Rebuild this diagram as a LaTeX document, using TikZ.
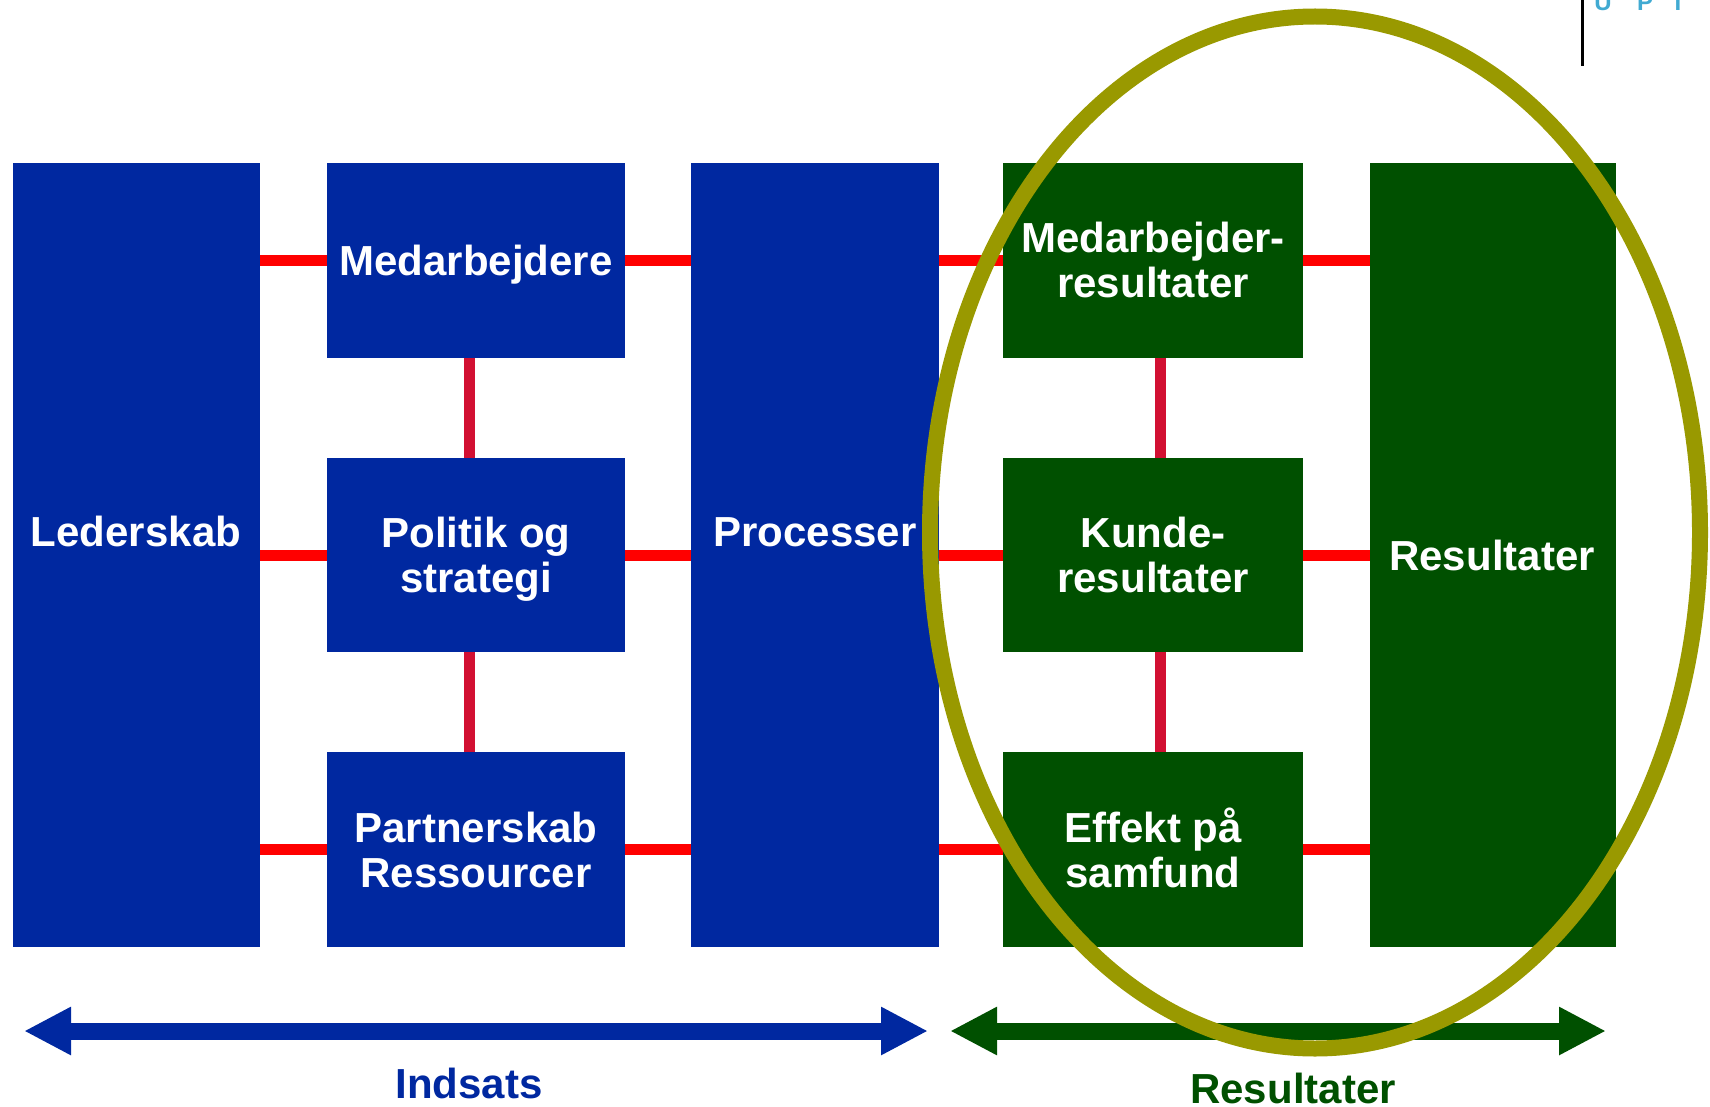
\documentclass[tikz,border=0pt]{standalone}
\usepackage{fontspec}
\setmainfont{Liberation Sans}
\usetikzlibrary{arrows.meta}
\definecolor{eblue}{RGB}{0,40,160}
\definecolor{egreen}{RGB}{0,80,0}
\definecolor{eolive}{RGB}{153,153,0}
\definecolor{ered}{RGB}{255,0,0}
\definecolor{ecrimson}{RGB}{210,16,50}
\definecolor{elogo}{RGB}{65,170,210}
\newcommand\lstr{\rule[-8pt]{0pt}{46pt}}
\newcommand\lblfont{\bfseries\fontsize{42}{45}\selectfont\lineskiplimit=-100pt\relax}
\begin{document}
\begin{tikzpicture}[x=1pt,y=-1pt,
  bluebox/.style={fill=eblue, inner sep=0pt},
  greenbox/.style={fill=egreen, inner sep=0pt},
  lbl/.style={text=white, align=center, inner sep=0pt, font=\lblfont},
  boxtext/.style={lbl},
  hcon/.style={draw=ered, line width=11pt},
  vcon/.style={draw=ecrimson, line width=11pt},
  bigarrow/.style={line width=17pt, {Triangle[length=47pt,width=45pt]}-{Triangle[length=47pt,width=45pt]}},
  arrlbl/.style={inner sep=0pt, font=\lblfont},
]
\useasboundingbox (0,0) rectangle (1710,1107);

% blue column boxes
\node[bluebox, minimum width=247pt, minimum height=784pt] (led) at (136.5,555) {};
\node[bluebox, boxtext, minimum width=298pt, minimum height=195pt] (med) at (476,260.5) {Medarbejdere\lstr};
\node[bluebox, boxtext, minimum width=298pt, minimum height=194pt] (pol) at (476,555) {Politik og\lstr\\strategi\lstr};
\node[bluebox, boxtext, minimum width=298pt, minimum height=195pt] (par) at (476,849.5) {Partnerskab\lstr\\Ressourcer\lstr};
\node[bluebox, minimum width=248pt, minimum height=784pt] (proc) at (815,555) {};

% green boxes
\node[greenbox, boxtext, minimum width=300pt, minimum height=195pt] (mr) at (1153,260.5) {Medarbejder-\lstr\\resultater\lstr};
\node[greenbox, boxtext, minimum width=300pt, minimum height=194pt] (kun) at (1153,555) {Kunde-\lstr\\resultater\lstr};
\node[greenbox, boxtext, minimum width=300pt, minimum height=195pt] (eff) at (1153,849.5) {Effekt på\lstr\\samfund\lstr};
\node[greenbox, minimum width=246pt, minimum height=784pt] (res) at (1493,555) {};

% labels of the tall boxes
\node[lbl] (ledt) at (136,531) {Lederskab\lstr};
\node[lbl] (proct) at (815,531) {Processer\lstr};
\node[lbl] (rest) at (1492,555) {Resultater\lstr};

% horizontal connectors
\draw[hcon] (led.east |- med.west) -- (med.west);
\draw[hcon] (med.east) -- (proc.west |- med.east);
\draw[hcon] (proc.east |- mr.west) -- (mr.west);
\draw[hcon] (mr.east) -- (res.west |- mr.east);
\draw[hcon] (led.east |- pol.west) -- (pol.west);
\draw[hcon] (pol.east) -- (proc.west |- pol.east);
\draw[hcon] (proc.east |- kun.west) -- (kun.west);
\draw[hcon] (kun.east) -- (res.west |- kun.east);
\draw[hcon] (led.east |- par.west) -- (par.west);
\draw[hcon] (par.east) -- (proc.west |- par.east);
\draw[hcon] (proc.east |- eff.west) -- (eff.west);
\draw[hcon] (eff.east) -- (res.west |- eff.east);

% vertical connectors
\draw[vcon] ([xshift=-7pt]med.south) -- ([xshift=-7pt]pol.north);
\draw[vcon] ([xshift=-7pt]pol.south) -- ([xshift=-7pt]par.north);
\draw[vcon] ([xshift=7pt]mr.south) -- ([xshift=7pt]kun.north);
\draw[vcon] ([xshift=7pt]kun.south) -- ([xshift=7pt]eff.north);

% bottom arrows
\coordinate (inL) at (24,1031);
\coordinate (inR) at (928,1031);
\coordinate (reL) at (950,1031);
\coordinate (reR) at (1606,1031);
\draw[bigarrow, draw=eblue, fill=eblue] (inL) -- (inR);
\draw[bigarrow, draw=egreen, fill=egreen] (reL) -- (reR);
\node[arrlbl, text=eblue] (indsats) at (469,1083) {Indsats\lstr};
\node[arrlbl, text=egreen] (resl) at (1293,1088) {Resultater\lstr};

% olive ellipse
\node[coordinate] (ec) at (1315,532.5) {};
\draw[eolive, line width=16pt] (ec) ellipse [x radius=385pt, y radius=516pt];

% top-right logo fragment
\coordinate (lt) at (1582,0);
\coordinate (lb) at (1582,66);
\draw[line width=3pt] (lt) -- (lb);
\begin{scope}
\clip (0,0) rectangle (1710,1107);
\node[anchor=base, inner sep=0pt, text=elogo, font=\bfseries\fontsize{24}{24}\selectfont] (lu) at (1603,11) {U};
\node[anchor=base, inner sep=0pt, text=elogo, font=\bfseries\fontsize{24}{24}\selectfont] (lp) at (1645,11) {P};
\node[anchor=base, inner sep=0pt, text=elogo, font=\bfseries\fontsize{24}{24}\selectfont] (li) at (1678,11) {I};
\end{scope}
\end{tikzpicture}
\end{document}
